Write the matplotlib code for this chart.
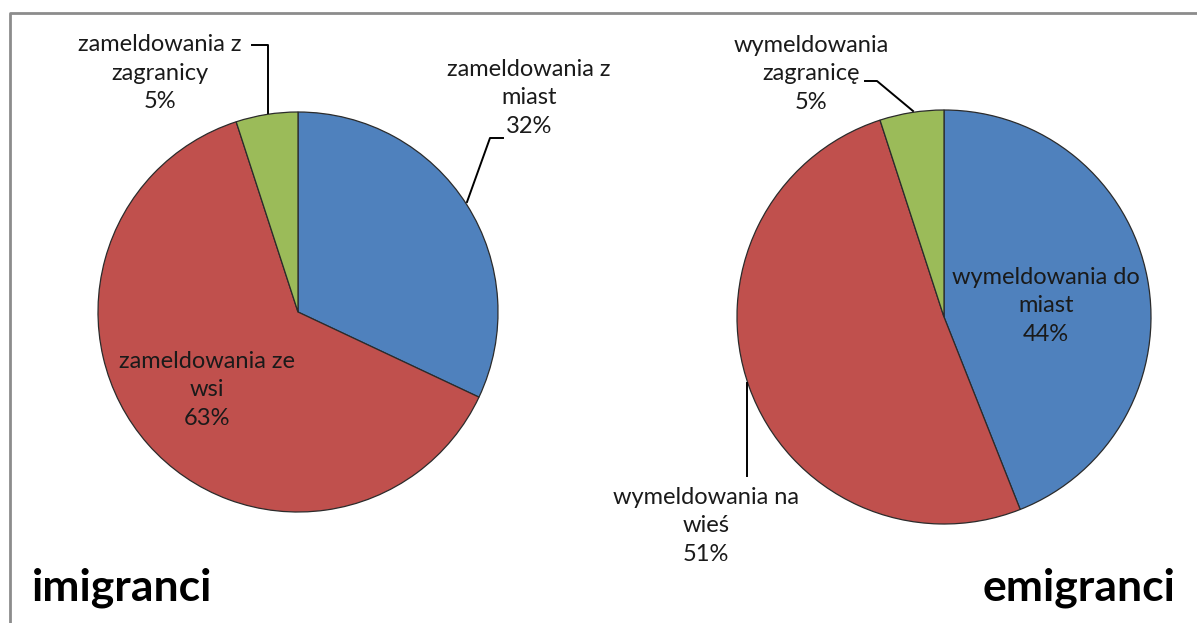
import matplotlib
matplotlib.use('Agg')
import matplotlib.pyplot as plt

# data
imm_labels = ['zameldowania z\nmiast', 'zameldowania ze\nwsi', 'zameldowania z\nzagranicy']
imm_values = [32, 63, 5]
emi_labels = ['wymeldowania do\nmiast', 'wymeldowania na\nwieś', 'wymeldowania\nzagranicę']
emi_values = [44, 51, 5]
colors = ['#4F81BD', '#C0504D', '#9BBB59']

W, H = 1197, 623
plt.rcParams['font.family'] = ['Lato', 'DejaVu Sans']

fig = plt.figure(figsize=(W / 100, H / 100), dpi=100)
ax = fig.add_axes([0, 0, 1, 1])

def Y(y):
    # pixel row (top origin) -> data y
    return H - y

# pies
wp = dict(edgecolor='#2b2b2b', linewidth=0.9)
ax.pie(imm_values, colors=colors, startangle=90, counterclock=False,
       center=(298, Y(312)), radius=200, wedgeprops=wp, frame=True)
ax.pie(emi_values, colors=colors, startangle=90, counterclock=False,
       center=(944, Y(317)), radius=207, wedgeprops=wp, frame=True)
ax.set_xlim(0, W)
ax.set_ylim(0, H)
ax.set_aspect('equal')
ax.axis('off')

fs = 17
def label(x, y, name, val):
    ax.text(x, Y(y), name + '\n' + str(val) + '%', ha='center', va='center',
            fontsize=fs, color='#1a1a1a', linespacing=1.45)

# left pie labels
label(529, 98, imm_labels[0], imm_values[0])
label(207, 390, imm_labels[1], imm_values[1])
label(160, 73, imm_labels[2], imm_values[2])
ax.plot([467, 490, 503], [Y(202), Y(138), Y(138)], color='black', lw=1.4)
ax.plot([268, 268, 252], [Y(113), Y(45), Y(45)], color='black', lw=1.4)

# right pie labels
label(1046, 306, emi_labels[0], emi_values[0])
label(706, 526, emi_labels[1], emi_values[1])
label(811, 74, emi_labels[2], emi_values[2])
ax.plot([913, 877, 865], [Y(111), Y(81), Y(81)], color='black', lw=1.4)
ax.plot([747, 747], [Y(383), Y(476)], color='black', lw=1.4)

# titles
ax.text(32, Y(600), 'imigranci', fontsize=32, fontweight='bold', va='baseline', ha='left')
ax.text(1175, Y(600), 'emigranci', fontsize=32, fontweight='bold', va='baseline', ha='right')

# frame (left and top edges)
ax.plot([10, 10, W], [0, Y(13), Y(13)], color='#8c8c8c', lw=2, solid_capstyle='butt')

fig.savefig('out.png', dpi=100, facecolor='white')
